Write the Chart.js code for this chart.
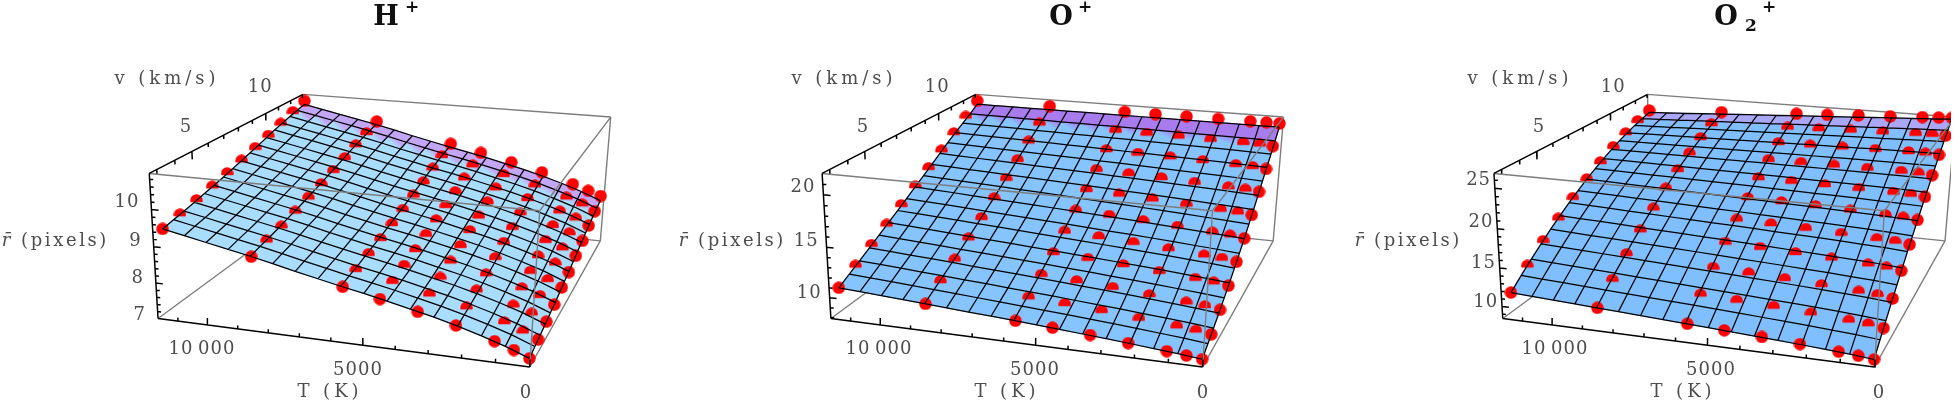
<!DOCTYPE html>
<html>
<head>
<meta charset="utf-8">
<style>
  html, body { margin: 0; padding: 0; background: #fff; }
  canvas { display: block; filter: blur(0.45px); }
</style>
<script src="https://cdn.jsdelivr.net/npm/chart.js@4"></script>
</head>
<body>
<canvas id="plots" width="1957" height="406"></canvas>
<script>
// mesh lines of the fitted surfaces
const meshT = [116, 834, 1552, 2269, 2987, 3705, 4423, 5141, 5858, 6576, 7294, 8012, 8729, 9447, 10165, 10883, 11600];
const meshV = [3, 3.625, 4.25, 4.875, 5.5, 6.125, 6.75, 7.375, 8, 8.625, 9.25, 9.875, 10.5, 11.125, 11.75, 12.375, 13];

// measured points (red)
const dotT = [116, 580, 1160, 2320, 3480, 4640, 5800, 8700, 11600];
const dotV = [3, 4, 5, 6, 7, 8, 9, 10, 11, 12, 13];

// surface r values, one row per meshV, one column per meshT
const hMesh = [
  [7.05,7.29,7.49,7.67,7.83,7.97,8.11,8.24,8.36,8.49,8.62,8.76,8.89,9.01,9.13,9.25,9.37],
  [7.12,7.36,7.56,7.74,7.90,8.04,8.18,8.31,8.43,8.56,8.69,8.83,8.96,9.08,9.20,9.32,9.44],
  [7.18,7.42,7.62,7.80,7.96,8.10,8.24,8.37,8.49,8.62,8.75,8.89,9.02,9.14,9.26,9.38,9.50],
  [7.25,7.49,7.69,7.87,8.03,8.17,8.31,8.44,8.56,8.69,8.82,8.96,9.09,9.21,9.33,9.45,9.57],
  [7.33,7.57,7.77,7.95,8.11,8.25,8.39,8.52,8.64,8.77,8.90,9.04,9.17,9.29,9.41,9.53,9.65],
  [7.40,7.64,7.84,8.02,8.18,8.32,8.46,8.59,8.71,8.84,8.97,9.11,9.24,9.36,9.48,9.60,9.72],
  [7.48,7.72,7.92,8.10,8.26,8.40,8.54,8.67,8.79,8.92,9.05,9.19,9.32,9.44,9.56,9.68,9.80],
  [7.57,7.81,8.01,8.19,8.35,8.49,8.63,8.76,8.88,9.01,9.14,9.28,9.41,9.53,9.65,9.77,9.89],
  [7.65,7.89,8.09,8.27,8.43,8.57,8.71,8.84,8.96,9.09,9.22,9.36,9.49,9.61,9.73,9.85,9.97],
  [7.74,7.98,8.18,8.36,8.52,8.66,8.80,8.93,9.05,9.18,9.31,9.45,9.58,9.70,9.82,9.94,10.06],
  [7.83,8.07,8.27,8.45,8.61,8.75,8.89,9.02,9.14,9.27,9.40,9.54,9.67,9.79,9.91,10.03,10.15],
  [7.92,8.16,8.36,8.54,8.70,8.84,8.98,9.11,9.23,9.36,9.49,9.63,9.76,9.88,10.00,10.12,10.24],
  [8.02,8.26,8.46,8.64,8.80,8.94,9.08,9.21,9.33,9.46,9.59,9.73,9.86,9.98,10.10,10.22,10.34],
  [8.10,8.34,8.54,8.72,8.88,9.02,9.16,9.29,9.41,9.54,9.67,9.81,9.94,10.06,10.18,10.30,10.42],
  [8.18,8.42,8.62,8.80,8.96,9.10,9.24,9.37,9.49,9.62,9.75,9.89,10.02,10.14,10.26,10.38,10.50],
  [8.25,8.49,8.69,8.87,9.03,9.17,9.31,9.44,9.56,9.69,9.82,9.96,10.09,10.21,10.33,10.45,10.57],
  [8.32,8.56,8.76,8.94,9.10,9.24,9.38,9.51,9.63,9.76,9.89,10.03,10.16,10.28,10.40,10.52,10.64],
];
const oMesh = [
  [8.00,8.24,8.43,8.62,8.80,8.96,9.12,9.28,9.43,9.57,9.71,9.85,9.99,10.13,10.27,10.40,10.53],
  [8.60,8.84,9.03,9.22,9.40,9.56,9.72,9.88,10.03,10.17,10.32,10.46,10.61,10.75,10.89,11.02,11.15],
  [9.24,9.47,9.66,9.84,10.02,10.18,10.34,10.50,10.65,10.79,10.95,11.09,11.23,11.37,11.52,11.65,11.78],
  [9.89,10.11,10.30,10.48,10.66,10.82,10.97,11.13,11.28,11.43,11.57,11.71,11.86,12.00,12.14,12.28,12.41],
  [10.58,10.80,10.97,11.15,11.32,11.48,11.64,11.79,11.94,12.08,12.22,12.37,12.50,12.65,12.78,12.92,13.06],
  [11.30,11.51,11.68,11.85,12.01,12.17,12.32,12.47,12.61,12.75,12.89,13.02,13.16,13.30,13.43,13.57,13.70],
  [12.05,12.25,12.41,12.58,12.73,12.88,13.02,13.17,13.30,13.44,13.57,13.71,13.83,13.97,14.10,14.23,14.35],
  [12.83,13.01,13.16,13.32,13.47,13.61,13.74,13.88,14.01,14.13,14.26,14.39,14.51,14.64,14.77,14.89,15.00],
  [13.64,13.81,13.95,14.09,14.23,14.36,14.49,14.62,14.74,14.86,14.98,15.09,15.21,15.33,15.45,15.56,15.67],
  [14.48,14.63,14.76,14.89,15.02,15.14,15.25,15.37,15.48,15.59,15.70,15.81,15.92,16.02,16.13,16.24,16.34],
  [15.35,15.49,15.60,15.72,15.83,15.94,16.04,16.15,16.25,16.34,16.44,16.54,16.64,16.73,16.83,16.93,17.02],
  [16.25,16.37,16.47,16.57,16.66,16.76,16.85,16.94,17.03,17.11,17.19,17.28,17.36,17.45,17.53,17.62,17.70],
  [17.18,17.28,17.36,17.44,17.52,17.60,17.68,17.75,17.83,17.90,17.97,18.04,18.11,18.18,18.25,18.32,18.39],
  [18.09,18.16,18.23,18.29,18.36,18.42,18.47,18.53,18.59,18.65,18.70,18.76,18.81,18.87,18.92,18.98,19.03],
  [18.98,19.03,19.08,19.12,19.16,19.21,19.25,19.29,19.33,19.37,19.40,19.44,19.48,19.52,19.56,19.60,19.63],
  [19.90,19.93,19.95,19.97,20.00,20.02,20.04,20.06,20.08,20.10,20.12,20.14,20.16,20.18,20.20,20.22,20.24],
  [20.90,20.90,20.90,20.90,20.90,20.90,20.90,20.90,20.90,20.90,20.90,20.90,20.90,20.90,20.90,20.90,20.90],
];
const o2Mesh = [
  [8.50,8.78,8.98,9.18,9.36,9.52,9.68,9.84,10.00,10.15,10.30,10.45,10.60,10.75,10.90,11.05,11.20],
  [9.81,10.08,10.28,10.47,10.65,10.81,10.97,11.13,11.29,11.43,11.58,11.73,11.88,12.03,12.17,12.32,12.47],
  [11.10,11.36,11.55,11.74,11.91,12.06,12.21,12.37,12.52,12.67,12.82,12.96,13.11,13.25,13.40,13.54,13.68],
  [12.36,12.61,12.79,12.96,13.13,13.28,13.43,13.57,13.72,13.86,14.00,14.13,14.28,14.42,14.56,14.69,14.83],
  [13.60,13.83,14.00,14.17,14.32,14.46,14.60,14.74,14.88,15.01,15.14,15.27,15.40,15.53,15.66,15.79,15.93],
  [14.81,15.02,15.18,15.33,15.47,15.60,15.73,15.85,15.98,16.10,16.23,16.34,16.46,16.59,16.71,16.82,16.95],
  [16.00,16.19,16.33,16.47,16.60,16.71,16.82,16.94,17.05,17.16,17.27,17.37,17.48,17.59,17.70,17.80,17.91],
  [17.16,17.33,17.45,17.56,17.67,17.77,17.87,17.97,18.07,18.16,18.25,18.35,18.44,18.54,18.62,18.71,18.81],
  [18.30,18.44,18.54,18.64,18.73,18.81,18.89,18.97,19.05,19.13,19.20,19.28,19.35,19.43,19.50,19.58,19.65],
  [19.41,19.52,19.60,19.68,19.75,19.81,19.87,19.93,19.99,20.04,20.09,20.14,20.20,20.25,20.31,20.37,20.42],
  [20.50,20.58,20.63,20.69,20.73,20.76,20.80,20.84,20.87,20.91,20.94,20.97,21.01,21.03,21.07,21.11,21.13],
  [21.56,21.61,21.63,21.65,21.68,21.69,21.70,21.71,21.72,21.73,21.73,21.74,21.76,21.76,21.77,21.78,21.78],
  [22.60,22.61,22.61,22.60,22.59,22.57,22.56,22.54,22.53,22.50,22.49,22.47,22.45,22.43,22.41,22.40,22.38],
  [23.61,23.58,23.55,23.51,23.47,23.42,23.37,23.33,23.28,23.23,23.19,23.14,23.09,23.04,22.99,22.95,22.90],
  [24.60,24.54,24.46,24.39,24.32,24.24,24.16,24.08,24.00,23.92,23.84,23.76,23.68,23.60,23.52,23.44,23.36],
  [25.56,25.46,25.34,25.23,25.12,25.00,24.89,24.78,24.67,24.55,24.44,24.33,24.21,24.10,23.99,23.87,23.76],
  [26.50,26.35,26.20,26.05,25.90,25.75,25.60,25.45,25.30,25.15,25.00,24.85,24.70,24.55,24.40,24.25,24.10],
];

// point r values, one row per dotV, one column per dotT
const hDots = [
  [7.05,7.22,7.39,7.68,7.92,8.14,8.35,8.88,9.37],
  [7.16,7.32,7.51,7.79,8.02,8.25,8.46,9.00,9.47],
  [7.27,7.44,7.60,7.90,8.14,8.36,8.58,9.09,9.59],
  [7.38,7.57,7.73,8.01,8.26,8.48,8.69,9.22,9.71],
  [7.52,7.68,7.86,8.15,8.39,8.61,8.82,9.35,9.84],
  [7.63,7.83,7.99,8.28,8.52,8.74,8.95,9.48,9.97],
  [7.79,7.96,8.13,8.42,8.66,8.88,9.10,9.62,10.11],
  [7.93,8.11,8.28,8.57,8.81,9.03,9.24,9.77,10.26],
  [8.10,8.27,8.44,8.73,8.97,9.19,9.41,9.93,10.42],
  [8.26,8.43,8.60,8.89,9.13,9.35,9.56,10.09,10.58],
  [8.47,8.60,8.77,9.06,9.30,9.52,9.73,10.26,10.75],
];
const oDots = [
  [8.00,8.16,8.33,8.63,8.95,9.20,9.42,9.98,10.53],
  [8.98,9.13,9.31,9.60,9.92,10.17,10.40,10.97,11.54],
  [10.04,10.19,10.34,10.64,10.95,11.20,11.43,11.99,12.55],
  [11.18,11.31,11.46,11.74,12.04,12.28,12.49,13.05,13.59],
  [12.39,12.52,12.66,12.91,13.18,13.41,13.61,14.14,14.65],
  [13.68,13.79,13.92,14.15,14.39,14.59,14.78,15.25,15.72],
  [15.05,15.14,15.25,15.44,15.65,15.83,15.99,16.40,16.80],
  [16.50,16.57,16.65,16.81,16.98,17.12,17.25,17.57,17.90],
  [18.02,18.07,18.13,18.25,18.36,18.46,18.55,18.79,19.02],
  [19.62,19.65,19.68,19.73,19.80,19.85,19.90,20.03,20.15],
  [21.30,21.30,21.30,21.30,21.30,21.30,21.30,21.30,21.30],
];
const o2Dots = [
  [8.50,8.72,8.90,9.24,9.52,9.76,10.00,10.60,11.20],
  [10.61,10.81,10.98,11.31,11.58,11.79,12.03,12.60,13.17],
  [12.65,12.84,13.00,13.28,13.53,13.74,13.95,14.47,14.99],
  [14.63,14.79,14.94,15.19,15.40,15.58,15.77,16.22,16.67],
  [16.55,16.68,16.80,17.00,17.19,17.33,17.49,17.85,18.21],
  [18.40,18.50,18.60,18.75,18.89,18.98,19.10,19.35,19.60],
  [20.19,20.26,20.32,20.41,20.50,20.53,20.61,20.73,20.85],
  [21.91,21.95,21.98,21.99,22.02,22.00,22.01,21.98,21.95],
  [23.57,23.56,23.56,23.49,23.44,23.36,23.31,23.11,22.91],
  [25.17,25.11,25.06,24.91,24.80,24.63,24.51,24.12,23.73],
  [26.70,26.60,26.50,26.25,26.05,25.80,25.60,25.00,24.40],
];

// axis ranges and ticks
const tRange = [0, 11680];
const vRange = [2.6, 13.05];
const rRanges = [[7, 10.95], [7.9, 22], [8.4, 26.8]];
const tMajor = [0, 5000, 10000];
const tLabels = ["0", "5000", "10\u2009000"];
const tMinor = [1000, 2000, 3000, 4000, 6000, 7000, 8000, 9000, 11000];
const vMajor = [5, 10];
const vMinor = [3, 4, 6, 7, 8, 9, 11, 12, 13];
const rMajors = [[7, 8, 9, 10], [10, 15, 20], [10, 15, 20, 25]];
const rMinors = [
  [7.2, 7.4, 7.6, 7.8, 8.2, 8.4, 8.6, 8.8, 9.2, 9.4, 9.6, 9.8, 10.2, 10.4, 10.6, 10.8],
  [8, 9, 11, 12, 13, 14, 16, 17, 18, 19, 21],
  [9, 11, 12, 13, 14, 16, 17, 18, 19, 21, 22, 23, 24, 26],
];

const panelNames = ["H", "O", "O2"];
const panelMesh = [hMesh, oMesh, o2Mesh];
const panelDots = [hDots, oDots, o2Dots];
const panelDx = [0, 677, 1353];
const cellColor = ["#a8ddff", "#85c4ff", "#7fbfff"];
const topColor = ["#c3a6f6", "#a97cee", "#aaa8f6"];

// camera: box corner, its three edges, and foreshortening along each edge
const corner = [527, 372];
const edgeT = [-374, -50], edgeV = [71, -130], edgeR = [10, -161];
const perspT = 0.09, perspV = 0.3, perspR = -0.05;

function project(p, T, v, r) {
  const u = (T - tRange[0]) / (tRange[1] - tRange[0]);
  const w = (v - vRange[0]) / (vRange[1] - vRange[0]);
  const h = (r - rRanges[p][0]) / (rRanges[p][1] - rRanges[p][0]);
  const d = 1 + perspT * u + perspV * w + perspR * h;
  const at = (k) => (u * (1 + perspT) * edgeT[k] + w * (1 + perspV) * edgeV[k] + h * (1 + perspR) * edgeR[k]) / d + corner[k];
  return { x: at(0) + panelDx[p], y: at(1) };
}

const canvas = document.getElementById("plots");
const ctx2d = canvas.getContext("2d");
const gap = { x: NaN, y: NaN };

// red point sprites: whole disc on the edges, cap where the surface cuts it
function dotSprite(cut) {
  const c = document.createElement("canvas");
  c.width = 13;
  c.height = 13;
  const g = c.getContext("2d");
  g.fillStyle = "#ff0000";
  g.beginPath();
  if (cut) g.rect(0, 0, 13, 8.2), g.clip(), g.beginPath();
  g.arc(6.5, 6.5, 6.2, 0, Math.PI * 2);
  g.fill();
  return c;
}
const fullDot = dotSprite(false);
const capDot = dotSprite(true);

function lineSet(data, color, width) {
  return { type: "scatter", data, showLine: true, borderColor: color, borderWidth: width, pointRadius: 0, fill: false, tension: 0 };
}

function boxEdge(p, a, b) {
  return [project(p, ...a), project(p, ...b), gap];
}

function buildPanel(p) {
  const layers = [];
  const table = panelMesh[p];
  const [tLo, tHi] = tRange, [vLo, vHi] = vRange, [rLo, rHi] = rRanges[p];

  // back of the box, hidden by the surface
  layers.push(lineSet([
    ...boxEdge(p, [tHi, vHi, rHi], [0, vHi, rHi]),
    ...boxEdge(p, [tLo, vHi, rHi], [tLo, vHi, rLo]),
    ...boxEdge(p, [tLo, vHi, rLo], [tHi, vHi, rLo]),
    ...boxEdge(p, [tHi, vHi, rLo], [tHi, vHi, rHi]),
    ...boxEdge(p, [tHi, vLo, rLo], [tHi, vHi, rLo]),
    ...boxEdge(p, [tLo, vLo, rLo], [tLo, vHi, rLo]),
  ], "#7d7d7d", 1.4));

  // surface cells
  for (let j = 0; j < meshV.length - 1; j++) {
    for (let i = 0; i < meshT.length - 1; i++) {
      const a = project(p, meshT[i], meshV[j], table[j][i]);
      const b = project(p, meshT[i + 1], meshV[j], table[j][i + 1]);
      const c = project(p, meshT[i + 1], meshV[j + 1], table[j + 1][i + 1]);
      const d = project(p, meshT[i], meshV[j + 1], table[j + 1][i]);
      let color = cellColor[p];
      if (j === meshV.length - 2) color = topColor[p];
      if (j === meshV.length - 3) {
        color = ctx2d.createLinearGradient((c.x + d.x) / 2, (c.y + d.y) / 2, (a.x + b.x) / 2, (a.y + b.y) / 2);
        color.addColorStop(0, topColor[p]);
        color.addColorStop(0.6, cellColor[p]);
      }
      const set = lineSet([a, b, c, d, a], color, 1);
      set.fill = "shape";
      set.backgroundColor = color;
      layers.push(set);
    }
  }

  // red points
  const dots = [];
  panelDots[p].forEach((row, j) => row.forEach((r, i) => dots.push(project(p, dotT[i], dotV[j], r))));
  layers.push({
    type: "scatter",
    data: dots,
    pointRadius: 5,
    pointStyle: (c) => {
      const i = c.dataIndex % dotT.length, j = Math.floor(c.dataIndex / dotT.length);
      return j === 0 || i === 0 || j === dotV.length - 1 ? fullDot : capDot;
    },
  });

  // mesh lines
  const mesh = [];
  meshV.forEach((v, j) => {
    meshT.forEach((T, i) => mesh.push(project(p, T, v, table[j][i])));
    mesh.push(gap);
  });
  meshT.forEach((T, i) => {
    meshV.forEach((v, j) => mesh.push(project(p, T, v, table[j][i])));
    mesh.push(gap);
  });
  layers.push(lineSet(mesh, "#000000", 1.25));

  // front of the box, drawn over the surface
  layers.push(lineSet([
    ...boxEdge(p, [tHi, vLo, rHi], [tLo, vLo, rHi]),
    ...boxEdge(p, [tLo, vLo, rHi], [tLo, vLo, rLo]),
    ...boxEdge(p, [tLo, vLo, rHi], [tLo, vHi, rHi]),
  ], "#7d7d7d", 1.4));

  // axes with their ticks
  const span = rHi - rLo;
  const axes = [
    ...boxEdge(p, [tHi, vLo, rLo], [tLo, vLo, rLo]),
    ...boxEdge(p, [tHi, vLo, rLo], [tHi, vLo, rHi]),
    ...boxEdge(p, [tHi, vLo, rHi], [tHi, vHi, rHi]),
  ];
  tMajor.forEach((T) => axes.push(...boxEdge(p, [T, vLo, rLo], [T, vLo, rLo + span * 0.05])));
  tMinor.forEach((T) => axes.push(...boxEdge(p, [T, vLo, rLo], [T, vLo, rLo + span * 0.025])));
  vMajor.forEach((v) => axes.push(...boxEdge(p, [tHi, v, rHi], [tHi, v, rHi - span * 0.055])));
  vMinor.forEach((v) => axes.push(...boxEdge(p, [tHi, v, rHi], [tHi, v, rHi - span * 0.028])));
  rMajors[p].forEach((r) => axes.push(...boxEdge(p, [tHi, vLo, r], [tHi * 0.98, vLo, r])));
  rMinors[p].forEach((r) => axes.push(...boxEdge(p, [tHi, vLo, r], [tHi * 0.99, vLo, r])));
  layers.push(lineSet(axes, "#000000", 1.5));
  return layers;
}

// text is placed from the same projection the marks use
const labelPlugin = {
  id: "boxLabels",
  afterDraw(chart) {
    const c = chart.ctx;
    const text = (s, x, y, font, color, align, spacing) => {
      c.font = font;
      c.fillStyle = color;
      c.textAlign = align || "center";
      c.textBaseline = "middle";
      c.letterSpacing = spacing || "0px";
      c.fillText(s, x, y);
    };
    const tickFont = '18px "DejaVu Serif"', ink = "#4d4d4d";
    panelNames.forEach((name, p) => {
      const dx = panelDx[p];
      tMajor.forEach((T, k) => {
        const q = project(p, T, vRange[0], rRanges[p][0]);
        text(tLabels[k], q.x - 1, q.y + 21, tickFont, ink, "center", "1px");
      });
      vMajor.forEach((v) => {
        const q = project(p, tRange[1], v, rRanges[p][1]);
        text(String(v), q.x - 1, q.y - 23, tickFont, ink, "center", "1px");
      });
      rMajors[p].forEach((r) => {
        const q = project(p, tRange[1], vRange[0], r);
        text(String(r), q.x - 7, q.y - 7, tickFont, ink, "right", "1px");
      });
      text("v (km/s)", 167 + dx, 79, tickFont, ink, "center", "4px");
      text("T (K)", 330 + dx, 392, tickFont, ink, "center", "4px");
      text("r\u0304", 6 + dx, 241, 'italic 18px "DejaVu Serif"', ink, "center");
      text("(pixels)", 65 + dx, 241, tickFont, ink, "center", "2.6px");
    });
    const bold = (size) => `bold ${size}px "DejaVu Serif"`;
    text("H", 386, 18, bold(27), "#111");
    text("+", 412, 8, bold(17), "#111");
    text("O", 1061, 18, bold(27), "#111");
    text("+", 1085, 8, bold(17), "#111");
    text("O", 1726, 18, bold(27), "#111");
    text("2", 1751, 27, bold(17), "#111");
    text("+", 1769, 8, bold(17), "#111");
  },
};

const datasets = [];
panelNames.forEach((name, p) => datasets.push(...buildPanel(p)));

new Chart(canvas, {
  data: { datasets: datasets.reverse() }, // first dataset is painted last
  plugins: [labelPlugin],
  options: {
    responsive: false,
    animation: false,
    events: [],
    layout: { padding: 0 },
    scales: {
      x: { type: "linear", min: 0, max: 1957, display: false },
      y: { type: "linear", min: 0, max: 406, reverse: true, display: false },
    },
    plugins: { legend: { display: false }, tooltip: { enabled: false }, title: { display: false } },
  },
});
</script>
</body>
</html>
